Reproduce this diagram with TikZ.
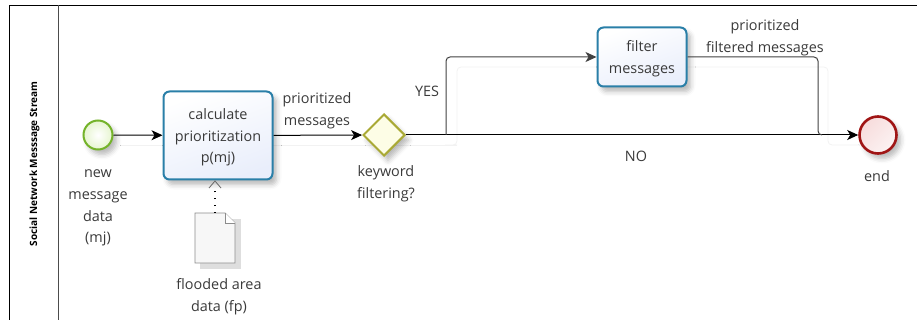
\documentclass[tikz,border=0pt]{standalone}
\usepackage{fontspec}
\setmainfont{Open Sans}
\usetikzlibrary{shapes.geometric,shadows.blur,arrows.meta}
\definecolor{taskblue}{HTML}{2A7FA8}
\definecolor{taskfill}{HTML}{E9EEFB}
\definecolor{textgrey}{HTML}{3A3A3A}
\definecolor{startgreen}{HTML}{74B32A}
\definecolor{startfill}{HTML}{E6F5CF}
\definecolor{gateolive}{HTML}{A9A935}
\definecolor{gatefill}{HTML}{FDFDE6}
\definecolor{endred}{HTML}{A01515}
\definecolor{endfill}{HTML}{F7DCDC}
\newcommand{\lbl}{\fontsize{14.4}{21.8}\selectfont}
\tikzset{
	softshadow/.style={blur shadow={shadow xshift=4pt,shadow yshift=-5pt,shadow blur radius=5pt,shadow opacity=28}},
	taskbox/.style={draw=taskblue,line width=2pt,rounded corners=6pt,inner sep=0pt,softshadow,
		left color=white,right color=taskfill,shading angle=20,align=center,font=\lbl,text=textgrey},
	lbl/.style={align=center,font=\lbl,text=textgrey,inner sep=0pt},
	flow/.style={draw=black,line width=1pt,-{Stealth[length=11pt,width=10pt,inset=3pt]}},
	flowplain/.style={draw=black!75,line width=1pt,rounded corners=4pt},
	ghost/.style={draw=black!5,line width=.8pt,rounded corners=4pt}
}
\begin{document}
\begin{tikzpicture}[x=1pt,y=-1pt,>=stealth]
\useasboundingbox (0,0) rectangle (917,320);

% lane
\coordinate (laneTL) at (9,5);
\coordinate (laneTR) at (917,5);
\coordinate (laneBL) at (9,320);
\coordinate (headT) at (58,5);
\coordinate (headB) at (58,320);
\draw[black,line width=.9pt] (laneBL) -- (laneTL) -- (laneTR);
\draw[black!70,line width=1pt] (headT) -- (headB);
\node[rotate=90,font=\fontsize{10}{12}\selectfont\bfseries,inner sep=0pt] (lane) at (34.5,164) {Social Network Messsage Stream};

% faint traces
\draw[ghost] (120,145) -- (457,145);
\draw[ghost] (445,145) -- ++(8,0) -- (457,145) -- (457,67) -- (828,67) -- (828,145) -- (862,145);

% events, tasks
\node[circle,draw=startgreen,line width=2pt,minimum size=29pt,inner sep=0pt,softshadow,
	inner color=white,outer color=startfill] (start) at (98,135) {};
\node[taskbox,minimum width=109pt,minimum height=88pt] (calc) at (218,135.5) {\rule{0pt}{14.5pt}calculate\\prioritization\\p(mj)};
\node[diamond,draw=gateolive,line width=2pt,minimum size=42pt,inner sep=0pt,softshadow,fill=gatefill] (gate) at (384,135) {};
\node[taskbox,minimum width=89pt,minimum height=59pt] (filter) at (642,57) {\rule{0pt}{14pt}filter\\messages};
\node[circle,draw=endred,line width=2.6pt,minimum size=37pt,inner sep=0pt,softshadow,
	left color=endfill,right color=endfill!35!white,shading angle=45] (end) at (878,135) {};

% data object
\fill[black!13] (200,219) rectangle (241,269);
\draw[black!45,fill=black!3,line width=.9pt] (195,213) -- (225,213) -- (235,223) -- (235,263) -- (195,263) -- cycle;
\draw[black!45,fill=white,line width=.9pt] (225,213) -- (225,223) -- (235,223);
\coordinate (doc) at (215,213);

% connectors
\coordinate (yesA) at (446,135);
\coordinate (yesB) at (446,57);
\coordinate (prioC) at (818,57);
\coordinate (prioD) at (818,135);
\coordinate (assoc) at (215,187);
\draw[flow] (start) -- (calc);
\draw[flow] (calc) -- (gate);
\draw[flow] (gate) -- (end);
\draw[flowplain,-{Stealth[length=11pt,width=10pt,inset=3pt]}] (yesA) -- (yesB) -- (filter);
\draw[flowplain] (filter) -- (prioC) -- (prioD) -- ++(4,0);
\draw[black,line width=1.4pt,dash pattern=on 1.4pt off 5.5pt] (doc) -- (assoc);
\draw[black!60,line width=.8pt] (209,188) -- (215,181) -- (221,188);

% labels
\node[lbl,anchor=north] (l1) at (98,169.5) {new\\message\\data\\(mj)};
\node[lbl] (l2) at (317,110.5) {prioritized\\messages};
\node[lbl] (l3) at (386,184) {keyword\\filtering?};
\node[lbl] (l4) at (427,91) {YES};
\node[lbl] (l5) at (636,156) {NO};
\node[lbl] (l6) at (765,38) {prioritized\\filtered messages};
\node[lbl] (l7) at (877,176) {end};
\node[lbl] (l8) at (219,297) {flooded area\\data (fp)};
\end{tikzpicture}
\end{document}
